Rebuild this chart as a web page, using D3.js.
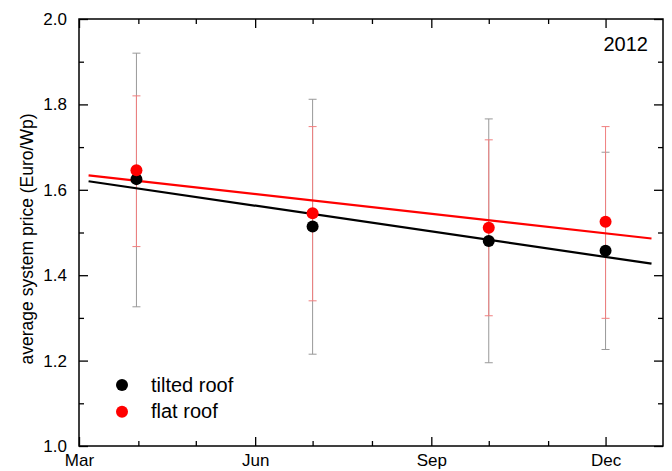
<!DOCTYPE html>
<html>
<head>
<meta charset="utf-8">
<script src="https://cdn.jsdelivr.net/npm/d3@7"></script>
<style>
  body { margin: 0; background: #fff; }
  svg { font-family: Arial, "Liberation Sans", sans-serif; }
  .domain { display: none; }
</style>
</head>
<body>
<div id="chart"></div>
<script>
// data
var dates = ['2012-03-31', '2012-07-01', '2012-10-01', '2012-12-01'];
var tiltedPrice = [1.625, 1.514, 1.480, 1.457];
var tiltedLow   = [1.326, 1.215, 1.195, 1.226];
var tiltedHigh  = [1.920, 1.812, 1.766, 1.688];
var flatPrice   = [1.646, 1.545, 1.511, 1.525];
var flatLow     = [1.467, 1.340, 1.305, 1.299];
var flatHigh    = [1.820, 1.748, 1.717, 1.748];

// linear fits, start and end
var fitDates  = ['2012-03-06', '2012-12-25'];
var tiltedFit = [1.620, 1.427];
var flatFit   = [1.634, 1.486];

var yTicks = [1.0, 1.2, 1.4, 1.6, 1.8, 2.0];
var majorMonths = ['Mar', 'Jun', 'Sep', 'Dec'];

var w = 672
  , h = 471
  , margin = { top: 19, right: 9, bottom: 25, left: 79 }
  , parse = d3.timeParse('%Y-%m-%d');

var svg = d3.select('#chart')
            .append('svg')
            .attr('width', w)
            .attr('height', h);

var x = d3.scaleTime()
          .domain([parse('2012-03-01'), parse('2012-12-31')])
          .range([margin.left, w - margin.right]);

var y = d3.scaleLinear()
          .domain([1.0, 2.0])
          .range([h - margin.bottom, margin.top]);

// note: "top" is taken by window.top
var plotTop = margin.top
  , plotBottom = h - margin.bottom
  , plotLeft = margin.left
  , plotRight = w - margin.right;

var monthTicks = x.ticks(d3.timeMonth.every(1));
var isMajor = function (d) {
  return majorMonths.indexOf(d3.timeFormat('%b')(d)) >= 0;
};
var minorY = [1.1, 1.3, 1.5, 1.7, 1.9];

// bottom axis, ticks inside
svg.append('g')
    .attr('transform', 'translate(0,' + plotBottom + ')')
    .call(d3.axisBottom(x)
      .tickValues(monthTicks)
      .tickSize(0)
      .tickPadding(8)
      .tickFormat(function (d) { return isMajor(d) ? d3.timeFormat('%b')(d) : ''; }))
    .call(function (g) {
      g.selectAll('text').attr('font-size', 17).attr('fill', '#000');
      g.selectAll('.tick line')
        .attr('y2', function (d) { return isMajor(d) ? -9 : -5; })
        .attr('stroke', '#000')
        .attr('stroke-width', 1.3);
    });

// top mirror ticks
svg.append('g')
    .attr('transform', 'translate(0,' + plotTop + ')')
    .call(d3.axisTop(x).tickValues(monthTicks).tickFormat('').tickSize(0))
    .call(function (g) {
      g.selectAll('.tick line')
        .attr('y2', function (d) { return isMajor(d) ? 9 : 5; })
        .attr('stroke', '#000')
        .attr('stroke-width', 1.3);
    });

// left axis
svg.append('g')
    .attr('transform', 'translate(' + plotLeft + ',0)')
    .call(d3.axisLeft(y).tickValues(yTicks).tickFormat(d3.format('.1f')).tickSize(0).tickPadding(12))
    .call(function (g) {
      g.selectAll('text').attr('font-size', 17).attr('fill', '#000');
      g.selectAll('.tick line').attr('x2', 9).attr('stroke', '#000').attr('stroke-width', 1.3);
    });

svg.append('g')
    .attr('transform', 'translate(' + plotLeft + ',0)')
    .call(d3.axisLeft(y).tickValues(minorY).tickFormat('').tickSize(0))
    .call(function (g) {
      g.selectAll('.tick line').attr('x2', 5).attr('stroke', '#000').attr('stroke-width', 1.3);
    });

// right mirror ticks
svg.append('g')
    .attr('transform', 'translate(' + plotRight + ',0)')
    .call(d3.axisRight(y).tickValues(yTicks.concat(minorY)).tickFormat('').tickSize(0))
    .call(function (g) {
      g.selectAll('.tick line')
        .attr('x2', function (d) { return yTicks.indexOf(d) >= 0 ? -9 : -5; })
        .attr('stroke', '#000')
        .attr('stroke-width', 1.3);
    });

// frame
svg.append('rect')
    .attr('x', plotLeft)
    .attr('y', plotTop)
    .attr('width', plotRight - plotLeft)
    .attr('height', plotBottom - plotTop)
    .attr('fill', 'none')
    .attr('stroke', '#000')
    .attr('stroke-width', 1.5);

var drawErrors = function (lows, highs, color) {
  var g = svg.append('g').attr('stroke', color).attr('stroke-width', 1);
  dates.forEach(function (d, i) {
    var cx = x(parse(d));
    g.append('line')
        .attr('x1', cx).attr('x2', cx)
        .attr('y1', y(lows[i])).attr('y2', y(highs[i]));
    [lows[i], highs[i]].forEach(function (v) {
      g.append('line')
          .attr('x1', cx - 4).attr('x2', cx + 4)
          .attr('y1', y(v)).attr('y2', y(v));
    });
  });
};

drawErrors(tiltedLow, tiltedHigh, '#999999');
drawErrors(flatLow, flatHigh, '#f07f7f');

var line = d3.line()
             .x(function (d) { return x(parse(d[0])); })
             .y(function (d) { return y(d[1]); });

svg.append('path')
    .datum(d3.zip(fitDates, tiltedFit))
    .attr('d', line)
    .attr('fill', 'none')
    .attr('stroke', '#000')
    .attr('stroke-width', 2.2);

svg.append('path')
    .datum(d3.zip(fitDates, flatFit))
    .attr('d', line)
    .attr('fill', 'none')
    .attr('stroke', '#ff0000')
    .attr('stroke-width', 2.2);

var drawDots = function (values, color) {
  svg.append('g')
      .selectAll('circle')
      .data(values)
      .enter()
      .append('circle')
      .attr('cx', function (d, i) { return x(parse(dates[i])); })
      .attr('cy', function (d) { return y(d); })
      .attr('r', 6)
      .attr('fill', color);
};

drawDots(tiltedPrice, '#000');
drawDots(flatPrice, '#ff0000');

// year label
svg.append('text')
    .attr('x', 648)
    .attr('y', 51)
    .attr('text-anchor', 'end')
    .attr('font-size', 20)
    .text('2012');

// y axis title
svg.append('text')
    .attr('transform', 'translate(33,239) rotate(-90)')
    .attr('text-anchor', 'middle')
    .attr('font-size', 17.5)
    .text('average system price (Euro/Wp)');

// legend
var legend = [['tilted roof', '#000'], ['flat roof', '#ff0000']];
legend.forEach(function (l, i) {
  var ly = 385 + i * 26.7;
  svg.append('circle').attr('cx', 122).attr('cy', ly).attr('r', 6).attr('fill', l[1]);
  svg.append('text')
      .attr('x', 151)
      .attr('y', ly + 6.5)
      .attr('font-size', 20)
      .text(l[0]);
});
</script>
</body>
</html>
